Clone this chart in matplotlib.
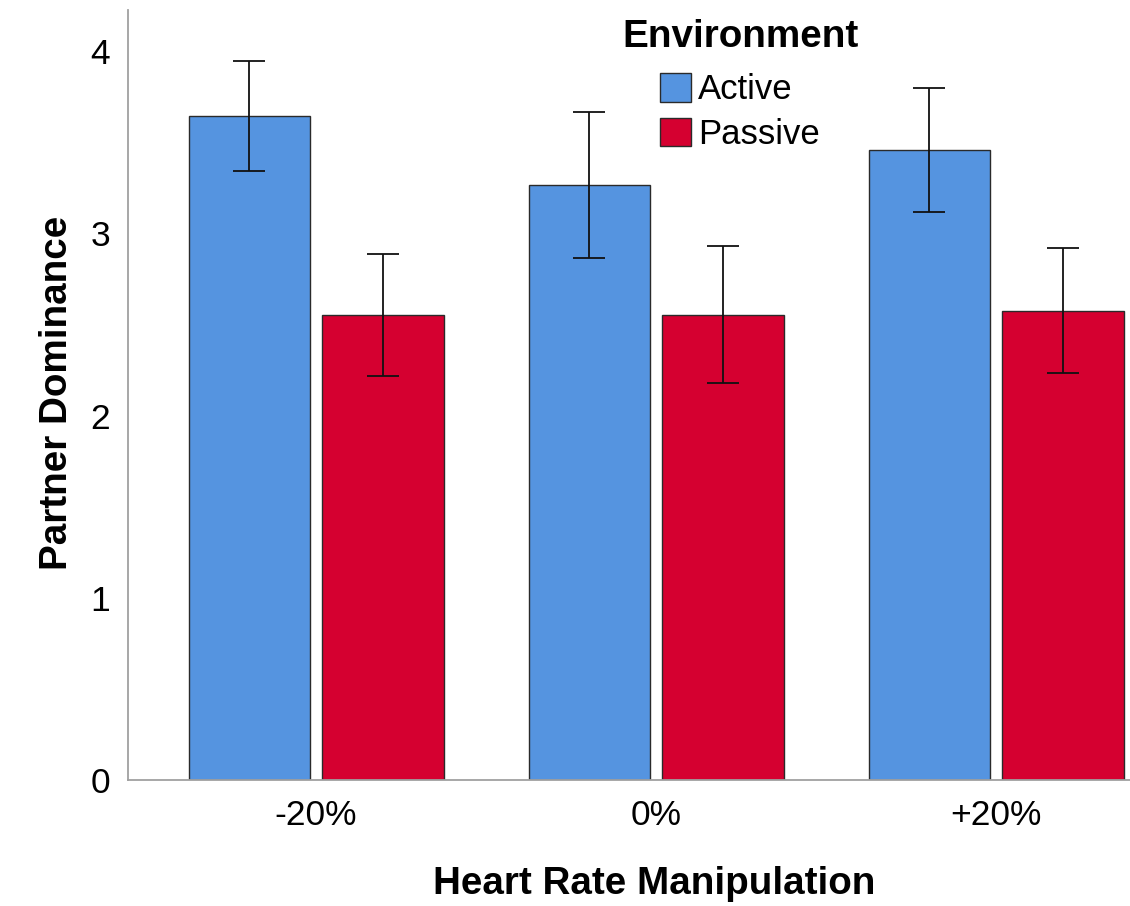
import matplotlib
matplotlib.use("Agg")
import matplotlib.pyplot as plt
import numpy as np

plt.rcParams['font.family'] = ['Liberation Sans', 'DejaVu Sans']

groups = ["-20%", "0%", "+20%"]
active_mean = [3.645, 3.266, 3.458]
active_lo = [3.343, 2.865, 3.117]
active_hi = [3.947, 3.666, 3.798]
passive_mean = [2.552, 2.552, 2.574]
passive_lo = [2.217, 2.179, 2.234]
passive_hi = [2.887, 2.931, 2.920]

BLUE = "#5594E0"
RED = "#D50030"

fig = plt.figure(figsize=(11.3, 9.06), dpi=100)
ax = fig.add_axes([128 / 1130, 1 - 780 / 906, 1 - 128 / 1130, 770 / 906])

x = np.arange(len(groups))
w = 0.356
off = 0.197

for xs, m, lo, hi, col, lab in [(x - off, active_mean, active_lo, active_hi, BLUE, "Active"),
                                (x + off, passive_mean, passive_lo, passive_hi, RED, "Passive")]:
    ax.bar(xs, m, width=w, color=col, edgecolor="#2a2a2a", linewidth=1.0, label=lab, zorder=2)
    m = np.array(m)
    yerr = [m - np.array(lo), np.array(hi) - m]
    ax.errorbar(xs, m, yerr=yerr, fmt="none", ecolor="#111111", elinewidth=1.3,
                capsize=11.8, capthick=1.3, zorder=3)

ax.set_xlim(-0.553, 2.394)
ax.set_ylim(0, 4.226)
ax.set_xticks(x)
ax.set_xticklabels(groups)
ax.set_yticks([0, 1, 2, 3, 4])
ax.tick_params(length=0, labelsize=25.5)
ax.tick_params(axis="y", pad=13)
ax.tick_params(axis="x", pad=14)

for s in ["top", "right"]:
    ax.spines[s].set_visible(False)
for s in ["left", "bottom"]:
    ax.spines[s].set_color("#A0A0A0")
    ax.spines[s].set_linewidth(1.3)

fig.text(654 / 1130, 1 - 884 / 906, "Heart Rate Manipulation", ha="center", va="center",
         fontsize=27.8, fontweight="bold")
fig.text(57 / 1130, 1 - 393 / 906, "Partner Dominance", ha="center", va="center",
         rotation=90, fontsize=27.8, fontweight="bold")

leg = ax.legend(loc="upper left", bbox_to_anchor=(622 / 1130, 1 - 19 / 906),
                bbox_transform=fig.transFigure, frameon=False, fontsize=25,
                title="Environment", title_fontproperties={"weight": "bold", "size": 27.8},
                handlelength=0.9, handleheight=0.9, handletextpad=0.2,
                labelspacing=0.32, borderpad=0, borderaxespad=0)
leg._legend_box.sep += 5
for h in leg.legend_handles:
    h.set_edgecolor("#2a2a2a")

fig.savefig("out.png", dpi=100)
